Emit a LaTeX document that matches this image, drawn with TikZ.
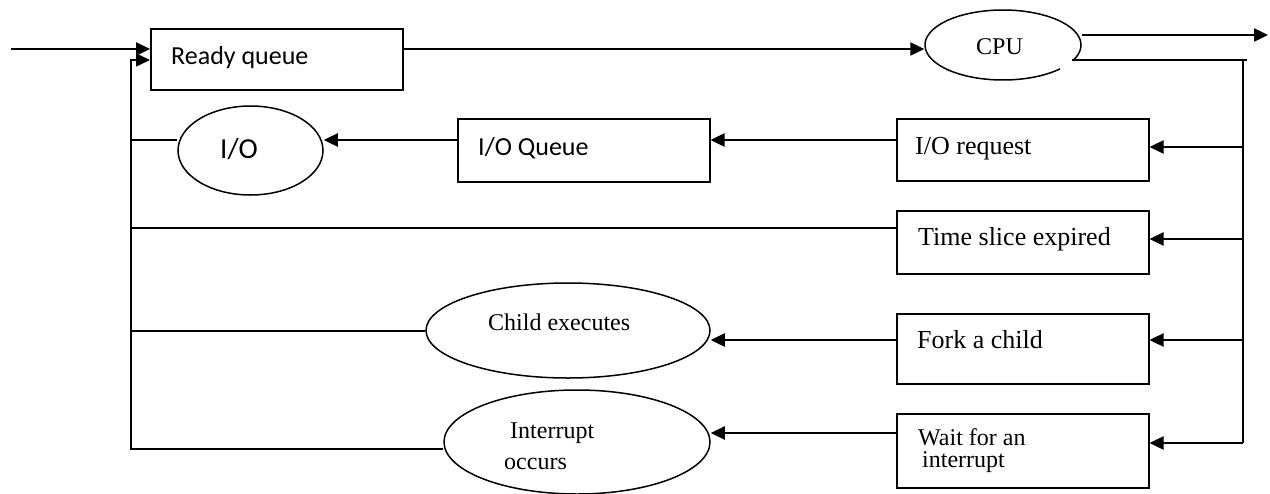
\documentclass[tikz,border=0pt]{standalone}
\usepackage{fontspec}
\setmainfont{Liberation Serif}
\newfontfamily\calfont{Carlito}
\usetikzlibrary{shapes.geometric,arrows.meta}
\tikzset{
  box/.style={draw, rectangle, line width=1.5pt, inner sep=0pt, anchor=north west},
  ell/.style={ellipse, line width=1.5pt, inner sep=0pt},
  txt/.style={anchor=base west, inner sep=0pt},
  serifA/.style={font=\fontsize{26pt}{30pt}\selectfont},
  serifB/.style={font=\fontsize{24pt}{28pt}\selectfont},
  sansA/.style={font=\calfont\fontsize{26pt}{30pt}\selectfont},
  sansB/.style={font=\calfont\fontsize{29pt}{33pt}\selectfont},
  tip/.tip={Triangle[length=14pt,width=13pt]},
  arr/.style={line width=2.4pt, -tip},
  ln/.style={line width=1.6pt}
}
\begin{document}
\begin{tikzpicture}[x=1pt,y=-1pt]
\clip (0,0) rectangle (1270,493);
\fill[white] (0,0) rectangle (1270,493);
% boxes
\node[box, minimum width=252pt, minimum height=61pt] (ready) at (150,28) {};
\node[box, minimum width=252pt, minimum height=63pt] (ioq) at (457,118) {};
\node[box, minimum width=252pt, minimum height=62pt] (ioreq) at (896,118) {};
\node[box, minimum width=252pt, minimum height=63pt] (time) at (896,210) {};
\node[box, minimum width=252pt, minimum height=70pt] (fork) at (896,313) {};
\node[box, minimum width=252pt, minimum height=74pt] (wait) at (896,413) {};
% ellipses
\node[ell, minimum width=156pt, minimum height=70pt] (cpu) at (1003,45) {};
\draw[line width=1.5pt] ([shift={(-27:78pt and 35pt)}]cpu.center) arc[start angle=-27, end angle=317, x radius=78pt, y radius=35pt];
\node[ell, draw, minimum width=145pt, minimum height=89pt] (io) at (250.5,150.5) {};
\node[ell, draw, minimum width=284pt, minimum height=95pt] (child) at (568,330.5) {};
\node[ell, draw, minimum width=266pt, minimum height=104pt] (intr) at (577,442) {};
% texts
\node[txt, sansA] (tready) at (171,64) {Ready queue};
\node[txt, sansA] (tioq) at (478,155) {I/O Queue};
\node[txt, sansB] (tio) at (220,158) {I/O};
\node[txt, serifB] (tcpu) at (976,54) {CPU};
\node[txt, serifA] (tioreq) at (915,154) {I/O request};
\node[txt, serifA] (ttime) at (918,245) {Time slice expired};
\node[txt, serifA] (tfork) at (917,348) {Fork a child};
\node[txt, serifB] (tchild) at (488,330) {Child executes};
\node[txt, serifB] (tintr1) at (510,438) {Interrupt};
\node[txt, serifB] (tintr2) at (504,469) {occurs};
\node[txt, serifB] (twait1) at (918,445) {Wait for an};
\begin{scope}
\clip (896,413) rectangle (1148,472);
\node[txt, serifB] (twait2) at (922,467) {interrupt};
\end{scope}
% coordinates
\coordinate (start) at (11,49);
\coordinate (out) at (1268,35);
\coordinate (cpuout) at (1072,60);
\coordinate (rtop) at (1243,60);
\coordinate (rbot) at (1243,443);
\coordinate (ltop) at (131,60);
\coordinate (lbot) at (131,449);
% top flow
\draw[arr] (start) -- (ready.west |- start);
\draw[arr] (ready.east |- 0,49) -- (cpu.west |- 0,49);
\draw[arr] (cpu.east |- out) -- (out);
\draw[ln] (cpuout) -- ([xshift=4pt]rtop);
\draw[ln] (rtop) -- (rbot);
% right branches
\draw[arr] (rtop |- 0,147) -- (ioreq.east |- 0,147);
\draw[arr] (rtop |- 0,239) -- (time.east |- 0,239);
\draw[arr] (rtop |- 0,340) -- (fork.east |- 0,340);
\draw[arr] (rbot) -- (wait.east |- rbot);
% middle arrows
\draw[arr] (ioreq.west |- 0,140) -- (ioq.east |- 0,140);
\draw[arr] (ioq.west |- 0,140) -- (io.east |- 0,140);
\draw[arr] (fork.west |- 0,340) -- (child.east |- 0,340);
\draw[arr] (wait.west |- 0,433) -- (intr.east |- 0,433);
% left returns
\draw[ln] (io.west |- 0,140) -- (ltop |- 0,140);
\draw[ln] (time.west |- 0,228) -- (ltop |- 0,228);
\draw[ln] (child.west |- 0,331) -- (ltop |- 0,331);
\draw[ln, -tip] (intr.west |- lbot) -- (lbot) -- (ltop) -- (ready.west |- ltop);
\end{tikzpicture}
\end{document}
